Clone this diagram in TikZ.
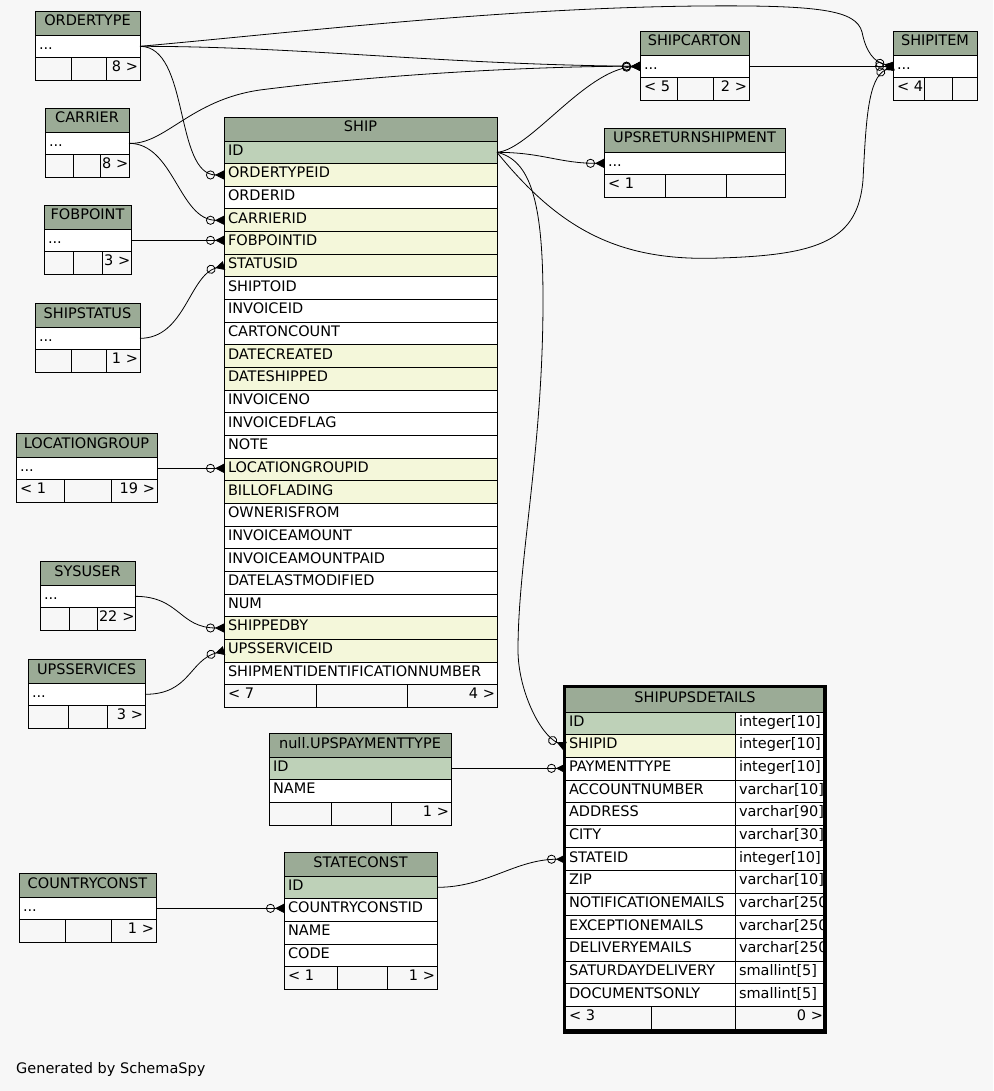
\documentclass[tikz,border=0pt]{standalone}
\usepackage{fontspec}
\setmainfont{DejaVu Sans}
\usepackage{tikz}
\usetikzlibrary{arrows.meta}

\begin{document}
\begin{tikzpicture}[
      x=1pt, y=-1pt,
      font=\fontsize{14.5}{17}\selectfont,
      cell/.style={draw, line width=0.9pt, anchor=north west, inner xsep=4pt, inner ysep=0pt,
        outer sep=0pt, minimum height=22.65pt, text height=11pt, text depth=5pt, align=left},
      cw/.style={minimum width=#1, text width=#1-8pt},
      cwr/.style={minimum width=#1, text width=#1-4pt, inner xsep=2pt, align=right},
      hdr/.style={cell, fill=hdcol, minimum height=24pt, align=center},
      col/.style={cell, fill=white},
      pk/.style={cell, fill=pkcol},
      fk/.style={cell, fill=fkcol},
      ft/.style={cell},
      rel/.style={line width=0.8pt,
        -{Circle[open, length=9pt, sep=0pt] Triangle[reversed, length=9pt, width=9pt, sep=0pt]}},
    ]
    \definecolor{bgcol}{HTML}{F7F7F7}
    \definecolor{hdcol}{HTML}{9BAB96}
    \definecolor{pkcol}{HTML}{BED1B8}
    \definecolor{fkcol}{HTML}{F4F7DA}

    \fill[bgcol] (0,0) rectangle (993,1091);

    % collapsed tables
    \node[hdr, cw=105pt] (ordertype) at (35,11) {ORDERTYPE};
    \node[col, cw=105pt] (ordertype-r) at (35,35) {...};
    \node[ft, cw=36pt] (ordertype-f1) at (35,57.65) {};
    \node[ft, cw=35pt] (ordertype-f2) at (71,57.65) {};
    \node[ft, cwr=34pt] (ordertype-f3) at (106,57.65) {\mbox{8 >}};

    \node[hdr, cw=84pt] (carrier) at (45,108) {CARRIER};
    \node[col, cw=84pt] (carrier-r) at (45,132) {...};
    \node[ft, cw=28pt] (carrier-f1) at (45,154.65) {};
    \node[ft, cw=27pt] (carrier-f2) at (73,154.65) {};
    \node[ft, cwr=29pt] (carrier-f3) at (100,154.65) {\mbox{8 >}};

    \node[hdr, cw=87pt] (fobpoint) at (44,205) {FOBPOINT};
    \node[col, cw=87pt] (fobpoint-r) at (44,229) {...};
    \node[ft, cw=29pt] (fobpoint-f1) at (44,251.65) {};
    \node[ft, cw=29pt] (fobpoint-f2) at (73,251.65) {};
    \node[ft, cwr=29pt] (fobpoint-f3) at (102,251.65) {\mbox{3 >}};

    \node[hdr, cw=105pt] (shipstatus) at (35,303) {SHIPSTATUS};
    \node[col, cw=105pt] (shipstatus-r) at (35,327) {...};
    \node[ft, cw=36pt] (shipstatus-f1) at (35,349.65) {};
    \node[ft, cw=35pt] (shipstatus-f2) at (71,349.65) {};
    \node[ft, cwr=34pt] (shipstatus-f3) at (106,349.65) {\mbox{1 >}};

    \node[hdr, cw=141pt] (locgroup) at (16,433) {LOCATIONGROUP};
    \node[col, cw=141pt] (locgroup-r) at (16,457) {...};
    \node[ft, cw=48pt] (locgroup-f1) at (16,479.65) {\mbox{< 1}};
    \node[ft, cw=47pt] (locgroup-f2) at (64,479.65) {};
    \node[ft, cwr=46pt] (locgroup-f3) at (111,479.65) {\mbox{19 >}};

    \node[hdr, cw=95pt] (sysuser) at (40,561) {SYSUSER};
    \node[col, cw=95pt] (sysuser-r) at (40,585) {...};
    \node[ft, cw=29pt] (sysuser-f1) at (40,607.65) {};
    \node[ft, cw=28pt] (sysuser-f2) at (69,607.65) {};
    \node[ft, cwr=38pt] (sysuser-f3) at (97,607.65) {\mbox{22 >}};

    \node[hdr, cw=117pt] (upsservices) at (28,659) {UPSSERVICES};
    \node[col, cw=117pt] (upsservices-r) at (28,683) {...};
    \node[ft, cw=40pt] (upsservices-f1) at (28,705.65) {};
    \node[ft, cw=39pt] (upsservices-f2) at (68,705.65) {};
    \node[ft, cwr=38pt] (upsservices-f3) at (107,705.65) {\mbox{3 >}};

    \node[hdr, cw=137pt] (countryconst) at (19,873) {COUNTRYCONST};
    \node[col, cw=137pt] (countryconst-r) at (19,897) {...};
    \node[ft, cw=46pt] (countryconst-f1) at (19,919.65) {};
    \node[ft, cw=46pt] (countryconst-f2) at (65,919.65) {};
    \node[ft, cwr=45pt] (countryconst-f3) at (111,919.65) {\mbox{1 >}};

    \node[hdr, cw=109pt] (shipcarton) at (640,31) {SHIPCARTON};
    \node[col, cw=109pt] (shipcarton-r) at (640,55) {...};
    \node[ft, cw=37pt] (shipcarton-f1) at (640,77.65) {\mbox{< 5}};
    \node[ft, cw=36pt] (shipcarton-f2) at (677,77.65) {};
    \node[ft, cwr=36pt] (shipcarton-f3) at (713,77.65) {\mbox{2 >}};

    \node[hdr, cw=84pt] (shipitem) at (893,31) {SHIPITEM};
    \node[col, cw=84pt] (shipitem-r) at (893,55) {...};
    \node[ft, cw=31pt] (shipitem-f1) at (893,77.65) {\mbox{< 4}};
    \node[ft, cw=28pt] (shipitem-f2) at (924,77.65) {};
    \node[ft, cw=25pt] (shipitem-f3) at (952,77.65) {};

    \node[hdr, cw=181pt] (upsreturn) at (604,128) {UPSRETURNSHIPMENT};
    \node[col, cw=181pt] (upsreturn-r) at (604,152) {...};
    \node[ft, cw=61pt] (upsreturn-f1) at (604,174.65) {\mbox{< 1}};
    \node[ft, cw=61pt] (upsreturn-f2) at (665,174.65) {};
    \node[ft, cw=59pt] (upsreturn-f3) at (726,174.65) {};

    % SHIP
    \node[hdr, cw=273pt] (ship) at (224,117) {SHIP};
    \foreach \c/\s [count=\i] in {ID/pk, ORDERTYPEID/fk, ORDERID/col, CARRIERID/fk,
        FOBPOINTID/fk, STATUSID/fk, SHIPTOID/col, INVOICEID/col, CARTONCOUNT/col,
        DATECREATED/fk, DATESHIPPED/fk, INVOICENO/col, INVOICEDFLAG/col, NOTE/col,
        LOCATIONGROUPID/fk, BILLOFLADING/fk, OWNERISFROM/col, INVOICEAMOUNT/col,
        INVOICEAMOUNTPAID/col, DATELASTMODIFIED/col, NUM/col, SHIPPEDBY/fk,
        UPSSERVICEID/fk, SHIPMENTIDENTIFICATIONNUMBER/col}
      \node[\s, cw=273pt] (ship\i) at (224,{141+(\i-1)*22.65}) {\mbox{\c}};
    \node[ft, cw=92pt] (ship-f1) at (224,684.6) {\mbox{< 7}};
    \node[ft, cw=91pt] (ship-f2) at (316,684.6) {};
    \node[ft, cwr=90pt] (ship-f3) at (407,684.6) {\mbox{4 >}};

    % null.UPSPAYMENTTYPE
    \node[hdr, cw=182pt] (paytype) at (269,733) {null.UPSPAYMENTTYPE};
    \node[pk, cw=182pt] (paytype1) at (269,757) {ID};
    \node[col, cw=182pt] (paytype2) at (269,779.65) {NAME};
    \node[ft, cw=62pt] (paytype-f1) at (269,802.3) {};
    \node[ft, cw=60pt] (paytype-f2) at (331,802.3) {};
    \node[ft, cwr=60pt] (paytype-f3) at (391,802.3) {\mbox{1 >}};

    % STATECONST
    \node[hdr, cw=153pt] (stateconst) at (284,852) {STATECONST};
    \node[pk, cw=153pt] (stateconst1) at (284,876) {ID};
    \node[col, cw=153pt] (stateconst2) at (284,898.65) {COUNTRYCONSTID};
    \node[col, cw=153pt] (stateconst3) at (284,921.3) {NAME};
    \node[col, cw=153pt] (stateconst4) at (284,943.95) {CODE};
    \node[ft, cw=53pt] (stateconst-f1) at (284,966.6) {\mbox{< 1}};
    \node[ft, cw=50pt] (stateconst-f2) at (337,966.6) {};
    \node[ft, cwr=50pt] (stateconst-f3) at (387,966.6) {\mbox{1 >}};

    % SHIPUPSDETAILS
    \node[hdr, cw=260pt, minimum height=26pt] (shipups) at (565,686) {SHIPUPSDETAILS};
    \begin{scope}
      \clip (560,712) rectangle (823.4,1007);
      \foreach \c/\t/\s [count=\i] in {ID/integer[10]/pk, SHIPID/integer[10]/fk,
          PAYMENTTYPE/integer[10]/col, ACCOUNTNUMBER/varchar[10]/col, ADDRESS/varchar[90]/col,
          CITY/varchar[30]/col, STATEID/integer[10]/col, ZIP/varchar[10]/col,
          NOTIFICATIONEMAILS/varchar[250]/col, EXCEPTIONEMAILS/varchar[250]/col,
          DELIVERYEMAILS/varchar[250]/col, SATURDAYDELIVERY/smallint[5]/col,
          DOCUMENTSONLY/smallint[5]/col}{
        \node[\s, cw=170pt] (shipups\i) at (565,{712+(\i-1)*22.65}) {\mbox{\c}};
        \node[col, cw=90pt] (shipupstype\i) at (735,{712+(\i-1)*22.65}) {\mbox{\t}};
      }
    \end{scope}
    \node[ft, cw=86pt] (shipups-f1) at (565,1006.45) {\mbox{< 3}};
    \node[ft, cw=84pt] (shipups-f2) at (651,1006.45) {};
    \node[ft, cwr=90pt] (shipups-f3) at (735,1006.45) {\mbox{0 >}};
    \draw[line width=3.3pt] (564.7,686.2) rectangle (825,1032);

    % relations
    \draw[rel] (ordertype-r.east) .. controls +(50,0) and +(-50,0) .. (ship2.west);
    \draw[rel] (ordertype-r.east) .. controls +(160,0) and +(-200,-2) .. (shipcarton-r.west);
    \draw[rel] (ordertype-r.east) .. controls (300,32) and (500,8) .. (700,6)
      .. controls (820,5) and (856,10) .. (862,32) .. controls (866,52) and (874,62) .. (shipitem-r.west);
    \draw[rel] (carrier-r.east) .. controls +(45,0) and +(-45,0) .. (ship4.west);
    \draw[rel] (carrier-r.east) .. controls (165,145) and (190,100) .. (260,90)
      .. controls (400,72) and (560,66) .. (shipcarton-r.west);
    \draw[rel] (fobpoint-r.east) -- (fobpoint-r.east -| ship5.west);
    \draw[rel] (shipstatus-r.east) .. controls +(45,0) and +(-35,10) .. (ship6.west);
    \draw[rel] (locgroup-r.east) -- (locgroup-r.east -| ship15.west);
    \draw[rel] (sysuser-r.east) .. controls +(45,0) and +(-45,0) .. (ship22.west);
    \draw[rel] (upsservices-r.east) .. controls +(45,0) and +(-35,10) .. (ship23.west);
    \draw[rel] (ship1.east) .. controls (530,150) and (585,70) .. (shipcarton-r.west);
    \draw[rel] (ship1.east) .. controls +(45,0) and +(-45,0) .. (upsreturn-r.west);
    \draw[rel] (ship1.east) .. controls (560,230) and (620,262) .. (720,258)
      .. controls (820,255) and (858,240) .. (863,180) .. controls (866,120) and (868,78) .. (shipitem-r.west);
    \draw[rel] (ship1.east) .. controls (530,160) and (543,200) .. (543,300)
      .. controls (543,450) and (518,560) .. (518,650) .. controls (518,690) and (540,735) .. (shipups2.west);
    \draw[rel] (shipcarton-r.east) -- (shipitem-r.west);
    \draw[rel] (paytype1.east) -- (paytype1.east -| shipups3.west);
    \draw[rel] (stateconst1.east) .. controls +(50,0) and +(-50,0) .. (shipups7.west);
    \draw[rel] (countryconst-r.east) -- (countryconst-r.east -| stateconst2.west);

    \node[anchor=base west, inner sep=0pt] (gen) at (16,1073) {Generated by SchemaSpy};
  \end{tikzpicture}
\end{document}
